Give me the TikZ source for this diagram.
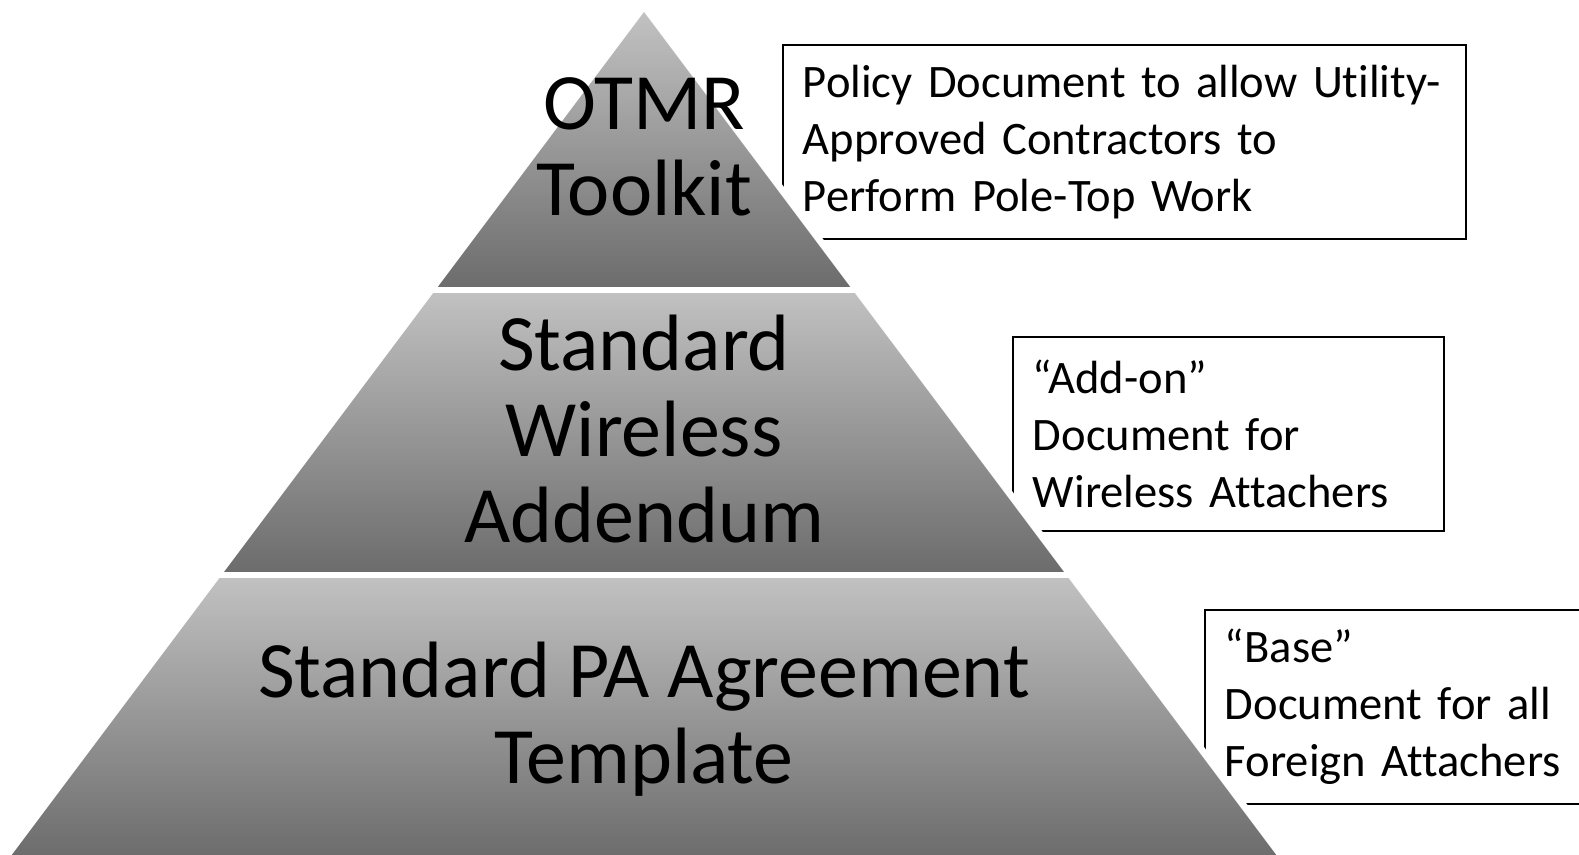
\documentclass[tikz,border=0pt]{standalone}
\usepackage{fontspec}
\setmainfont{Carlito}[Ligatures={TeX,NoCommon}]
\usetikzlibrary{positioning}
\usetikzlibrary{calc}

\definecolor{tiertop}{gray}{0.76}
\definecolor{tierbot}{gray}{0.42}

\begin{document}
\begin{tikzpicture}[x=0.02cm, y=-0.02cm,
    note/.style={draw, line width=1.1pt, anchor=north west, align=left, inner xsep=0.4cm, minimum height=3.88cm, font=\fontsize{26.5}{32.5}\selectfont},
    tier/.style={top color=tiertop, bottom color=tierbot},
    tiertext/.style={align=center, font=\fontsize{45.5}{49}\selectfont}
  ]
  \useasboundingbox (0,0) rectangle (1579,855);

  % notes first, the pyramid is laid over their frames
  \node[note, text width=12.86cm] (policy) at (782,44) {Policy Document to allow Utility-\\Approved Contractors to\\Perform Pole-Top Work};
  \node[note, text width=7.82cm] (addon) at (1012,336) {“Add-on”\\Document for\\Wireless Attachers};
  \node[note, text width=7.6cm] (base) at (1204,609) {“Base”\\Document for all\\Foreign Attachers};

  % pyramid
  \coordinate (apex) at (644,12);
  \coordinate (bl) at (8,860);
  \coordinate (br) at (1280,860);
  \draw[white, line width=8pt] (bl) -- (apex) -- (br);
  \shade[tier] (apex) -- (852.5,290) -- (435.5,290) -- cycle;
  \shade[tier] (435.5,290) -- (852.5,290) -- (1066.25,575) -- (221.75,575) -- cycle;
  \shade[tier] (221.75,575) -- (1066.25,575) -- (br) -- (bl) -- cycle;
  \draw[white, line width=3.4pt] (420,290) -- (870,290) (205,575) -- (1085,575);

  \node[tiertext] (otmr) at (644,147) {OTMR\\Toolkit};
  \node[tiertext] (wireless) at (644,429) {Standard\\Wireless\\Addendum};
  \node[tiertext] (template) at (644,719) {Standard PA Agreement\\Template};
\end{tikzpicture}
\end{document}
